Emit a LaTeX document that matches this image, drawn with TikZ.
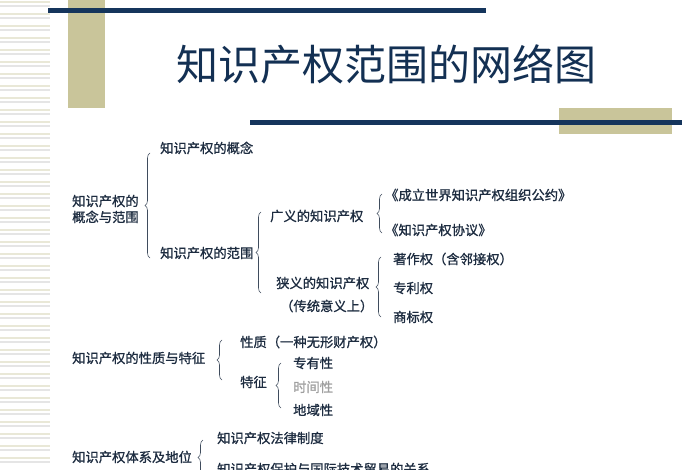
\documentclass[tikz,border=0pt]{standalone}
\usepackage{fontspec}
\setmainfont{Noto Sans CJK SC}
\newfontfamily\cjkthick[FakeBold=1.1]{Noto Sans CJK SC}
\usetikzlibrary{decorations.pathreplacing}

\definecolor{navybar}{HTML}{15355C}
\definecolor{olivebar}{HTML}{C9C59A}
\definecolor{inktext}{HTML}{1D2C40}

\tikzset{
  txt/.style={anchor=west, inner sep=0pt, text=inktext, font=\cjkthick\fontsize{13.3}{16}\selectfont},
  kuohao/.style={decorate, decoration={brace, amplitude=5pt}, draw=inktext!85, line width=0.6pt},
}

\begin{document}
\begin{tikzpicture}[x=1pt, y=-1pt]
        \useasboundingbox (0,0) rectangle (700,470);
        \clip (0,0) rectangle (700,470);

        % left stripes
        \foreach \i in {0,...,116} {
            \pgfmathtruncatemacro{\k}{mod(\i,3)}
            \ifnum\k=0 \def\stripe{olivebar!40}\fi
            \ifnum\k=1 \def\stripe{gray!20}\fi
            \ifnum\k=2 \def\stripe{white}\fi
            \draw[\stripe, line width=1.6pt] (0,\i*4+2) -- (50,\i*4+2);
        }

        % bars
        \fill[olivebar] (68,0) rectangle (105,108);
        \fill[navybar] (48,8) rectangle (486,13);
        \fill[olivebar] (559,108) rectangle (672,134);
        \fill[navybar] (250,120) rectangle (682,125);

        \node[text=navybar!90!black, font=\fontsize{42}{42}\selectfont, inner sep=0pt] (title) at (386,64) {知识产权范围的网络图};

        % first group
        \node[txt, align=left] (gainianfanwei) at (72,209) {知识产权的\\概念与范围};
        \node[txt] (gainian) at (160,148) {知识产权的概念};
        \node[txt] (fanwei) at (160,253) {知识产权的范围};
        \node[txt] (guangyi) at (270,216) {广义的知识产权};
        \node[txt] (xiayi) at (276,283) {狭义的知识产权};
        \node[txt] (chuantong) at (280,306) {（传统意义上）};
        \node[txt] (gongyue) at (385,195) {《成立世界知识产权组织公约》};
        \node[txt] (xieyi) at (385,230) {《知识产权协议》};
        \node[txt] (zhuzuo) at (393,259) {著作权（含邻接权）};
        \node[txt] (zhuanli) at (393,288) {专利权};
        \node[txt] (shangbiao) at (393,317) {商标权};

        % second group
        \node[txt] (xingzhitezheng) at (72,358) {知识产权的性质与特征};
        \node[txt] (xingzhi) at (240,342) {性质（一种无形财产权）};
        \node[txt] (tezheng) at (240,382) {特征};
        \node[txt] (zhuanyou) at (293,363) {专有性};
        \node[txt, text=gray!75] (shijian) at (293,387) {时间性};
        \node[txt] (diyu) at (293,410) {地域性};

        % third group
        \node[txt] (tixi) at (72,457) {知识产权体系及地位};
        \node[txt] (falv) at (217,438) {知识产权法律制度};
        \node[txt] (maoyi) at (217,469) {知识产权保护与国际技术贸易的关系};

        % braces
        \path[kuohao] (150,258) -- (150,153);
        \path[kuohao] (261,293) -- (261,212);
        \path[kuohao] (382,233) -- (382,194);
        \path[kuohao] (381,317) -- (381,257);
        \path[kuohao] (222,380) -- (222,340);
        \path[kuohao] (281,408) -- (281,363);
        \path[kuohao] (203,475) -- (203,440);
    \end{tikzpicture}
\end{document}
